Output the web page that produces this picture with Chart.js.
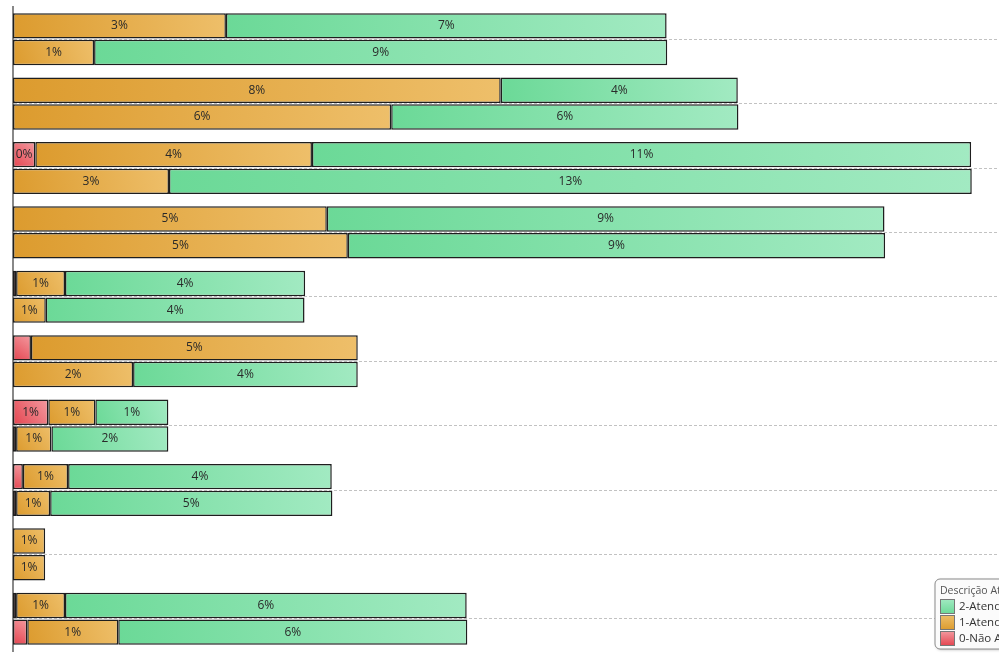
<!DOCTYPE html>
<html>
<head>
<meta charset="utf-8">
<script src="https://cdn.jsdelivr.net/npm/chart.js@4/dist/chart.umd.min.js"></script>
<style>
    html, body { margin: 0; padding: 0; background: #fff; overflow: hidden; }
    #wrap { width: 999px; height: 656px; position: relative; }
</style>
</head>
<body>
<div id="wrap"><canvas id="atendChart"></canvas></div>
<script>
// ── Data ───────────────────────────────────────────────
const categorias = ["1", "2", "3", "4", "5", "6", "7", "8", "9", "10"];

// first bar of each pair
const naoAtendeuA = [0, 0, 0.36, 0, 0.05, 0.29, 0.57, 0.16, 0, 0.05];
const parcialA    = [3.44, 7.88, 4.47, 5.07, 0.79, 5.28, 0.76, 0.73, 0.52, 0.79];
const atendeuA    = [7.12, 3.83, 10.65, 9.01, 3.88, 0, 1.18, 4.26, 0, 6.49];

// second bar of each pair
const naoAtendeuB = [0, 0, 0, 0, 0, 0, 0.05, 0.05, 0, 0.23];
const parcialB    = [1.31, 6.11, 2.52, 5.41, 0.53, 1.94, 0.57, 0.55, 0.52, 1.47];
const atendeuB    = [9.26, 5.61, 12.97, 8.68, 4.18, 3.63, 1.89, 4.56, 0, 5.64];

const legendTitle = "Descrição Atendimento";
const legendItems = ["2-Atendeu", "1-Atendeu Parcialmente", "0-Não Atendeu"];

// ── Colours ────────────────────────────────────────────
const palette = {
    red:    ["#e4444f", "#f39aa0"],
    orange: ["#dc9b2e", "#eebf6a"],
    green:  ["#6bd997", "#a2eac2"]
};

const stackSeries = {
    a: [naoAtendeuA, parcialA, atendeuA],
    b: [naoAtendeuB, parcialB, atendeuB]
};

// gradient per segment, dark at bottom-left, light at top-right
function segmentFill(colors, stack, level) {
    return ctx => {
        const chart = ctx.chart;
        const x = chart.scales.x, y = chart.scales.y;
        if (!chart.chartArea || !x || !y || ctx.dataIndex === undefined) return colors[0];
        const i = ctx.dataIndex;
        const series = stackSeries[stack];
        let start = 0;
        for (let k = 0; k < level; k++) start += series[k][i];
        const end = start + series[level][i];
        const x0 = x.getPixelForValue(start), x1 = x.getPixelForValue(end);
        const yc = y.getPixelForValue(i) + (stack === "a" ? -13 : 13);
        if (!isFinite(x0) || !isFinite(x1) || x1 - x0 < 1) return colors[0];
        const g = chart.ctx.createLinearGradient(x0, yc + 13, x1, yc - 13);
        g.addColorStop(0, colors[0]);
        g.addColorStop(1, colors[1]);
        return g;
    };
}

function makeSet(data, colors, stack, level) {
    return {
        data: data.map(v => v === 0 ? null : v),
        stack: stack,
        backgroundColor: segmentFill(colors, stack, level),
        borderColor: "#1e1e1e",
        borderWidth: 1.5,
        borderSkipped: false,
        categoryPercentage: 0.83,
        barPercentage: 0.95
    };
}

// ── Plugins ────────────────────────────────────────────
const segmentLabels = {
    id: "segmentLabels",
    afterDatasetsDraw(chart) {
        const ctx = chart.ctx;
        ctx.save();
        ctx.font = "12px 'Open Sans'";
        ctx.fillStyle = "#2a2a2a";
        ctx.textAlign = "center";
        ctx.textBaseline = "middle";
        chart.data.datasets.forEach((ds, d) => {
            chart.getDatasetMeta(d).data.forEach((bar, i) => {
                const v = ds.data[i];
                if (v === null) return;
                if (Math.abs(bar.x - bar.base) < 20) return;
                ctx.fillText(Math.round(v) + "%", (bar.x + bar.base) / 2, bar.y);
            });
        });
        ctx.restore();
    }
};

const boxLegend = {
    id: "boxLegend",
    afterDraw(chart) {
        const ctx = chart.ctx;
        const bx = 935, by = 579;
        ctx.save();
        ctx.shadowColor = "rgba(0,0,0,0.25)";
        ctx.shadowBlur = 3;
        ctx.shadowOffsetX = 1;
        ctx.shadowOffsetY = 1;
        ctx.fillStyle = "#fbfbfb";
        ctx.beginPath();
        ctx.roundRect(bx, by, 170, 70, 5);
        ctx.fill();
        ctx.shadowColor = "transparent";
        ctx.strokeStyle = "#8a8a8a";
        ctx.lineWidth = 1;
        ctx.stroke();

        ctx.font = "10.5px 'Open Sans'";
        ctx.fillStyle = "#555";
        ctx.textBaseline = "middle";
        ctx.fillText(legendTitle, bx + 5, by + 12);

        const swatches = [palette.green, palette.orange, palette.red];
        legendItems.forEach((txt, k) => {
            const sy = by + 20 + k * 16;
            const g = ctx.createLinearGradient(0, sy, 0, sy + 15);
            g.addColorStop(0, swatches[k][1]);
            g.addColorStop(1, swatches[k][0]);
            ctx.fillStyle = g;
            ctx.fillRect(bx + 5.5, sy + 0.5, 14, 14);
            ctx.strokeStyle = "#777";
            ctx.strokeRect(bx + 5.5, sy + 0.5, 14, 14);
            ctx.fillStyle = "#333";
            ctx.font = "11.5px 'Open Sans'";
            ctx.fillText(txt, bx + 24, sy + 8);
        });
        ctx.restore();
    }
};

// ── Chart ──────────────────────────────────────────────
new Chart(document.getElementById("atendChart"), {
    type: "bar",
    data: {
        labels: categorias,
        datasets: [
            makeSet(naoAtendeuA, palette.red, "a", 0),
            makeSet(parcialA, palette.orange, "a", 1),
            makeSet(atendeuA, palette.green, "a", 2),
            makeSet(naoAtendeuB, palette.red, "b", 0),
            makeSet(parcialB, palette.orange, "b", 1),
            makeSet(atendeuB, palette.green, "b", 2)
        ]
    },
    options: {
        indexAxis: "y",
        responsive: true,
        maintainAspectRatio: false,
        animation: false,
        layout: { padding: { top: 7, bottom: 5, left: 0, right: 0 } },
        plugins: {
            legend: { display: false },
            tooltip: { enabled: false }
        },
        scales: {
            x: {
                display: false,
                stacked: true,
                min: 0,
                max: 15.93
            },
            y: {
                stacked: true,
                ticks: { display: false },
                grid: { offset: false, drawTicks: false, color: "#c2c2c2", lineWidth: 1 },
                border: { display: true, color: "#888", width: 2, dash: [3, 2] },
                afterFit: scale => { scale.width = 13; }
            }
        }
    },
    plugins: [segmentLabels, boxLegend]
});
</script>
</body>
</html>
